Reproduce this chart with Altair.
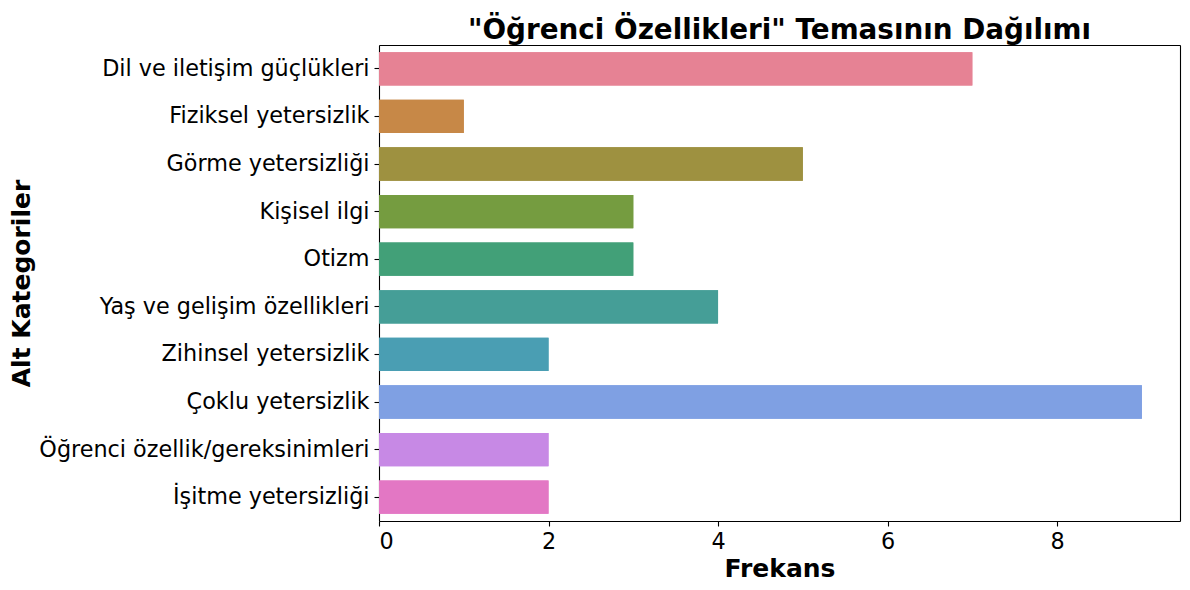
import altair as alt
import pandas as pd

categories = [
    "Dil ve iletişim güçlükleri",
    "Fiziksel yetersizlik",
    "Görme yetersizliği",
    "Kişisel ilgi",
    "Otizm",
    "Yaş ve gelişim özellikleri",
    "Zihinsel yetersizlik",
    "Çoklu yetersizlik",
    "Öğrenci özellik/gereksinimleri",
    "İşitme yetersizliği",
]
values = [7, 1, 5, 3, 3, 4, 2, 9, 2, 2]
colors = [
    "#e68294", "#c78847", "#9e9140", "#759c40", "#42a078",
    "#459e97", "#4a9eb3", "#7fa0e3", "#c789e5", "#e377c4",
]
x_ticks = [0, 2, 4, 6, 8]

df = pd.DataFrame({"Alt Kategoriler": categories, "Frekans": values})

FONT = "DejaVu Sans"

x_scale = alt.Scale(domain=[0, 9.45], nice=False, zero=True)
y_scale = alt.Scale(paddingInner=0.3, paddingOuter=0.15)
color_enc = alt.Color(
    "Alt Kategoriler:N",
    scale=alt.Scale(domain=categories, range=colors),
    legend=None,
)

base = alt.Chart(df)

bars = base.mark_bar().encode(
    x=alt.X(
        "Frekans:Q",
        scale=x_scale,
        axis=alt.Axis(
            values=x_ticks,
            format="d",
            grid=False,
            title="Frekans",
            titleFont=FONT,
            titleFontSize=25,
            titleFontWeight="bold",
            titleColor="black",
            titleBaseline="alphabetic",
            titleY=55,
            labelFont=FONT,
            labelFontSize=22.3,
            labelColor="black",
            labelPadding=4,
            tickSize=5,
            tickColor="black",
            tickWidth=1.1,
            domainColor="black",
            domainWidth=1.1,
        ),
    ),
    y=alt.Y(
        "Alt Kategoriler:N",
        sort=categories,
        scale=y_scale,
        axis=alt.Axis(
            grid=False,
            title="Alt Kategoriler",
            titleFont=FONT,
            titleFontSize=25,
            titleFontWeight="bold",
            titleColor="black",
            titleBaseline="alphabetic",
            titleX=-350,
            titleY=238,
            labelFont=FONT,
            labelFontSize=22.3,
            labelColor="black",
            labelPadding=5,
            labelLimit=600,
            tickSize=5,
            tickColor="black",
            tickWidth=1.1,
            domainColor="black",
            domainWidth=1.1,
        ),
    ),
    color=color_enc,
)

frame = base.mark_bar().encode(
    x=alt.X(
        "Frekans:Q",
        scale=x_scale,
        axis=alt.Axis(
            orient="top", labels=False, ticks=False, grid=False, title=None,
            domainColor="black", domainWidth=1.1,
        ),
    ),
    y=alt.Y(
        "Alt Kategoriler:N",
        sort=categories,
        scale=y_scale,
        axis=alt.Axis(
            orient="right", labels=False, ticks=False, grid=False, title=None,
            domainColor="black", domainWidth=1.1,
        ),
    ),
    color=color_enc,
)

chart = (
    alt.layer(bars, frame)
    .resolve_axis(x="independent", y="independent")
    .properties(
        width=801,
        height=476,
        title=alt.TitleParams(
            text='"Öğrenci Özellikleri" Temasının Dağılımı',
            font=FONT,
            fontSize=27.8,
            fontWeight="bold",
            color="black",
            anchor="middle",
            baseline="alphabetic",
            offset=9,
            dy=31,
        ),
        autosize=alt.AutoSizeParams(type="none"),
        padding={"left": 371, "top": 37, "right": 2, "bottom": 65},
    )
    .configure_view(stroke=None)
    .configure(background="white")
)

chart.save("out.html", embed_options={"renderer": "svg", "actions": False})
